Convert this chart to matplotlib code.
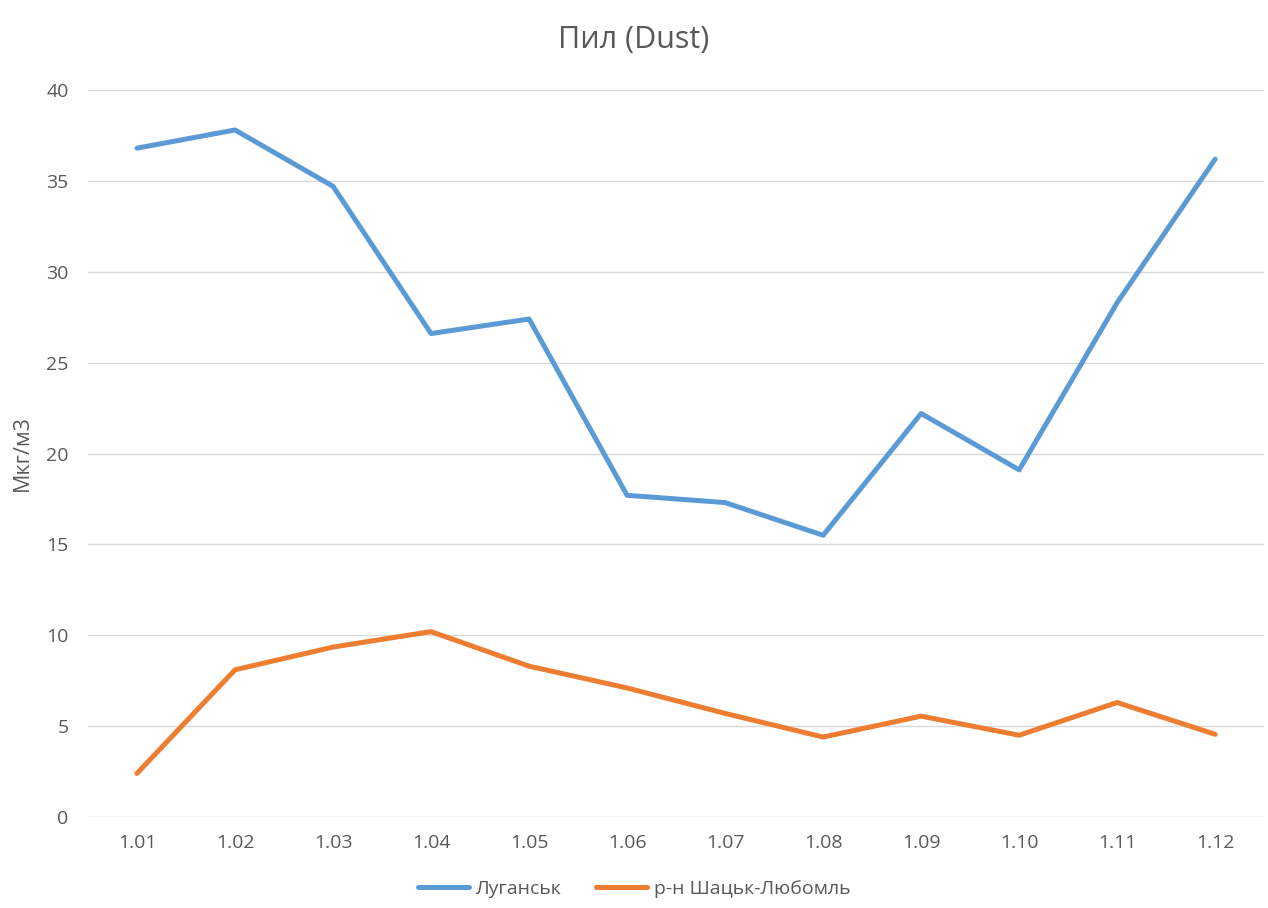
import matplotlib.pyplot as plt
import numpy as np

plt.rcParams['font.family'] = ['Open Sans', 'DejaVu Sans']

months = ['1.01', '1.02', '1.03', '1.04', '1.05', '1.06',
          '1.07', '1.08', '1.09', '1.10', '1.11', '1.12']
luhansk = [36.8, 37.8, 34.7, 26.6, 27.4, 17.7, 17.3, 15.5, 22.2, 19.1, 28.3, 36.2]
shatsk = [2.4, 8.1, 9.35, 10.2, 8.3, 7.1, 5.7, 4.4, 5.55, 4.5, 6.3, 4.55]

grey = '#595959'

fig = plt.figure(figsize=(12.68, 9.08), dpi=100)
ax = fig.add_axes([0.0694, 0.1002, 0.9276, 0.8007])

x = np.arange(len(months))
ax.plot(x, luhansk, color='#5B9BD5', linewidth=3.6, solid_capstyle='round',
        solid_joinstyle='round', label='Луганськ')
ax.plot(x, shatsk, color='#ED7D31', linewidth=3.6, solid_capstyle='round',
        solid_joinstyle='round', label='р-н Шацьк-Любомль')

ax.set_xlim(-0.5, len(months) - 0.5)
ax.set_ylim(0, 40)
ax.set_yticks(range(0, 41, 5))
ax.set_xticks(x)
ax.set_xticklabels(months)
ax.tick_params(length=0, labelsize=14, labelcolor=grey)
ax.tick_params(axis='x', pad=12)
ax.tick_params(axis='y', pad=14)
ax.grid(axis='y', color='#d9d9d9', linewidth=1)
ax.set_axisbelow(True)
for s in ax.spines.values():
    s.set_visible(False)

ax.set_ylabel('Мкг/м3', fontsize=15.5, color=grey)
ax.yaxis.set_label_coords(-0.047, 0.5)
fig.suptitle('Пил (Dust)', fontsize=22, color=grey, y=0.972)

fig.legend(loc='lower center', bbox_to_anchor=(0.5, -0.008), ncol=2, frameon=False,
           fontsize=14, labelcolor=grey, handlelength=2.6, handletextpad=0.35,
           columnspacing=1.8)

fig.savefig('out.png', dpi=100)
